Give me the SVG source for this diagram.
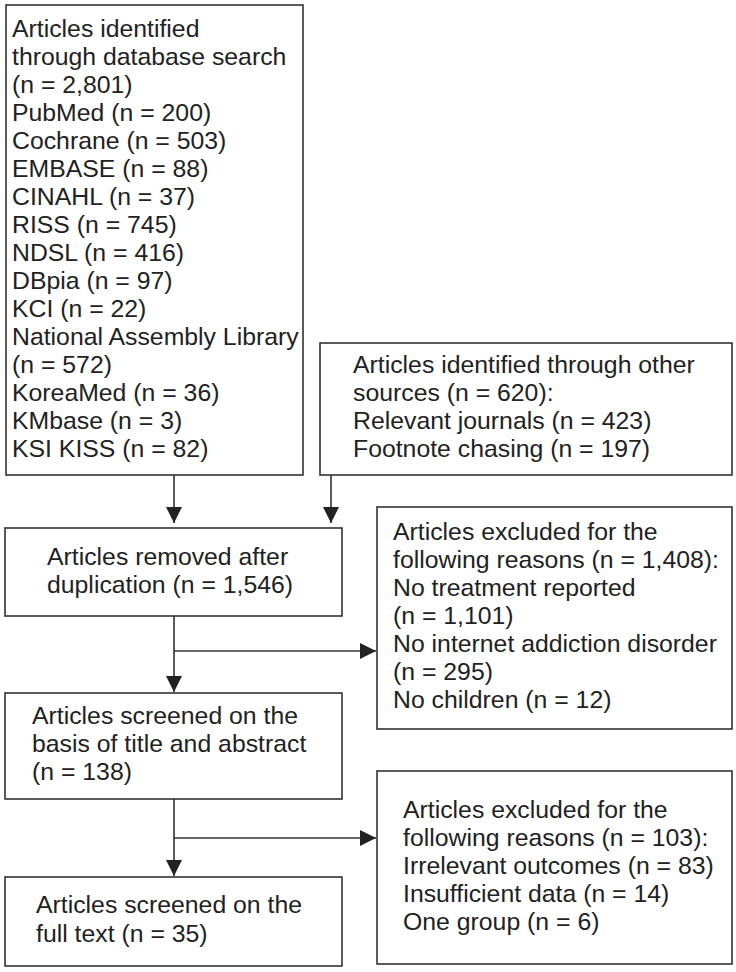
<svg xmlns="http://www.w3.org/2000/svg" width="736" height="972" viewBox="0 0 736 972">
<style>
.box{fill:#fff;stroke:#333;stroke-width:1.6}
.t{font-family:"Liberation Sans",Arial,sans-serif;font-size:24.8px;fill:#222}
.c{fill:none;stroke:#333;stroke-width:1.6}
</style>
<defs>
<marker id="ah" markerUnits="userSpaceOnUse" markerWidth="18" markerHeight="18" viewBox="0 0 18 18" refX="16" refY="9" orient="auto">
<path d="M0,1 L16,9 L0,17 Z" fill="#222"/>
</marker>
</defs>
<rect width="736" height="972" fill="#fff"/>
<g id="connectors">
<path class="c" d="M174,475 V523" marker-end="url(#ah)"/>
<path class="c" d="M331,475 V523" marker-end="url(#ah)"/>
<path class="c" d="M174,616 V692" marker-end="url(#ah)"/>
<path class="c" d="M174,651 H376" marker-end="url(#ah)"/>
<path class="c" d="M174,799 V876" marker-end="url(#ah)"/>
<path class="c" d="M174,838 H376" marker-end="url(#ah)"/>
</g>
<g id="db-search">
<rect class="box" x="6" y="5" width="297" height="470"/>
<text class="t" x="12" y="37">Articles identified</text>
<text class="t" x="12" y="65">through database search</text>
<text class="t" x="12" y="93">(n = 2,801)</text>
<text class="t" x="12" y="121">PubMed (n = 200)</text>
<text class="t" x="12" y="149">Cochrane (n = 503)</text>
<text class="t" x="12" y="177">EMBASE (n = 88)</text>
<text class="t" x="12" y="205">CINAHL (n = 37)</text>
<text class="t" x="12" y="233">RISS (n = 745)</text>
<text class="t" x="12" y="261">NDSL (n = 416)</text>
<text class="t" x="12" y="289">DBpia (n = 97)</text>
<text class="t" x="12" y="317">KCI (n = 22)</text>
<text class="t" x="12" y="345">National Assembly Library</text>
<text class="t" x="12" y="373">(n = 572)</text>
<text class="t" x="12" y="401">KoreaMed (n = 36)</text>
<text class="t" x="12" y="429">KMbase (n = 3)</text>
<text class="t" x="12" y="457">KSI KISS (n = 82)</text>
</g>
<g id="other-sources">
<rect class="box" x="320" y="343" width="412" height="132"/>
<text class="t" x="353" y="373">Articles identified through other</text>
<text class="t" x="353" y="401">sources (n = 620):</text>
<text class="t" x="353" y="429">Relevant journals (n = 423)</text>
<text class="t" x="353" y="457">Footnote chasing (n = 197)</text>
</g>
<g id="removed">
<rect class="box" x="5" y="528" width="337" height="88"/>
<text class="t" x="47" y="565">Articles removed after</text>
<text class="t" x="47" y="593">duplication (n = 1,546)</text>
</g>
<g id="excluded1">
<rect class="box" x="377" y="507" width="355" height="222"/>
<text class="t" x="393" y="540">Articles excluded for the</text>
<text class="t" x="393" y="568">following reasons (n = 1,408):</text>
<text class="t" x="393" y="596">No treatment reported</text>
<text class="t" x="393" y="624">(n = 1,101)</text>
<text class="t" x="393" y="652">No internet addiction disorder</text>
<text class="t" x="393" y="680">(n = 295)</text>
<text class="t" x="393" y="708">No children (n = 12)</text>
</g>
<g id="screened-title">
<rect class="box" x="5" y="693" width="337" height="106"/>
<text class="t" x="32" y="724">Articles screened on the</text>
<text class="t" x="32" y="752">basis of title and abstract</text>
<text class="t" x="32" y="780">(n = 138)</text>
</g>
<g id="excluded2">
<rect class="box" x="377" y="771" width="355" height="193"/>
<text class="t" x="403" y="818">Articles excluded for the</text>
<text class="t" x="403" y="846">following reasons (n = 103):</text>
<text class="t" x="403" y="874">Irrelevant outcomes (n = 83)</text>
<text class="t" x="403" y="902">Insufficient data (n = 14)</text>
<text class="t" x="403" y="930">One group (n = 6)</text>
</g>
<g id="full-text">
<rect class="box" x="5" y="877" width="337" height="89"/>
<text class="t" x="36" y="913">Articles screened on the</text>
<text class="t" x="36" y="942">full text (n = 35)</text>
</g>
</svg>
